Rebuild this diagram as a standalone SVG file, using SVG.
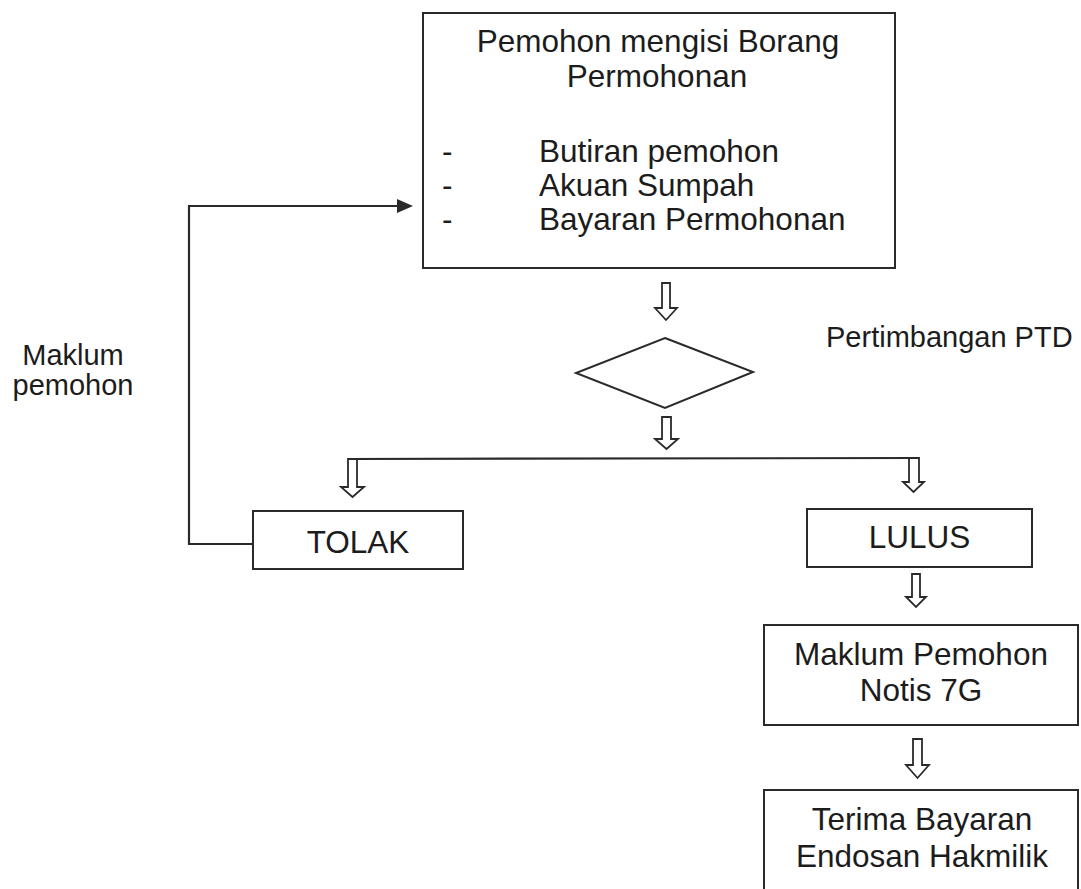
<svg xmlns="http://www.w3.org/2000/svg" width="1081" height="889" viewBox="0 0 1081 889">
<defs>
<style>
.box{fill:#fff;stroke:#2a2a2a;stroke-width:2}
.line{fill:none;stroke:#2a2a2a;stroke-width:2.2}
.barrow{fill:#fff;stroke:#2a2a2a;stroke-width:1.8;stroke-linejoin:miter}
text{font-family:"Liberation Sans",Arial,sans-serif;fill:#1c1c1c}
.t{font-size:31.5px}
.m{text-anchor:middle}
.s{font-size:29px}
</style>
<marker id="ah" viewBox="0 0 10 10" refX="9" refY="5" markerWidth="16" markerHeight="16" markerUnits="userSpaceOnUse" orient="auto">
<path d="M0,0 L10,5 L0,10 z" fill="#2a2a2a"/>
</marker>
</defs>
<rect width="1081" height="889" fill="#fff"/>

<g id="connectors">
<polyline class="line" points="253,544 189,544 189,206 398,206"/>
<path d="M397,199 L413,206 L397,213 z" fill="#2a2a2a"/>
<line class="line" x1="348" y1="459" x2="919" y2="458"/>
<path class="barrow" d="M662,283 L670,283 L670,308 L677,308 L666,320 L655,308 L662,308 z"/>
<path class="barrow" d="M662,417 L671,417 L671,439 L678,439 L666.5,449 L655,439 L662,439 z"/>
<path class="barrow" d="M348,459 L357,459 L357,487 L364,487 L352.5,497 L341,487 L348,487 z"/>
<path class="barrow" d="M909,458 L919,458 L919,482 L924,482 L913.5,492 L903,482 L909,482 z"/>
<path class="barrow" d="M912,574 L920,574 L920,597 L926,597 L916,607 L906,597 L912,597 z"/>
<path class="barrow" d="M913,739 L922,739 L922,765 L929,765 L917.5,778 L906,765 L913,765 z"/>
</g>

<g id="node-borang">
<rect class="box" x="423" y="13" width="472" height="255"/>
<text class="t m" x="658" y="52">Pemohon mengisi Borang</text>
<text class="t m" x="657" y="87">Permohonan</text>
<text class="t" x="442" y="162">-</text>
<text class="t" x="539" y="162">Butiran pemohon</text>
<text class="t" x="442" y="196">-</text>
<text class="t" x="539" y="196">Akuan Sumpah</text>
<text class="t" x="442" y="230">-</text>
<text class="t" x="539" y="230">Bayaran Permohonan</text>
</g>

<g id="label-maklum">
<text class="s m" x="73" y="365">Maklum</text>
<text class="s m" x="73" y="395">pemohon</text>
</g>

<g id="node-decision">
<polygon class="box" points="665,338 753,372 665,408 576,373"/>
</g>

<g id="label-ptd">
<text class="s" x="826" y="347">Pertimbangan PTD</text>
</g>

<g id="node-tolak">
<rect class="box" x="253" y="511" width="210" height="58"/>
<text class="t m" x="358" y="553">TOLAK</text>
</g>

<g id="node-lulus">
<rect class="box" x="807" y="509" width="225" height="58"/>
<text class="t m" x="919.5" y="548">LULUS</text>
</g>

<g id="node-notis">
<rect class="box" x="764" y="625" width="314" height="100"/>
<text class="t m" x="921" y="665">Maklum Pemohon</text>
<text class="t m" x="921" y="701">Notis 7G</text>
</g>

<g id="node-bayaran">
<rect class="box" x="764" y="790" width="314" height="120"/>
<text class="t m" x="922" y="830">Terima Bayaran</text>
<text class="t m" x="922" y="867">Endosan Hakmilik</text>
</g>
</svg>
